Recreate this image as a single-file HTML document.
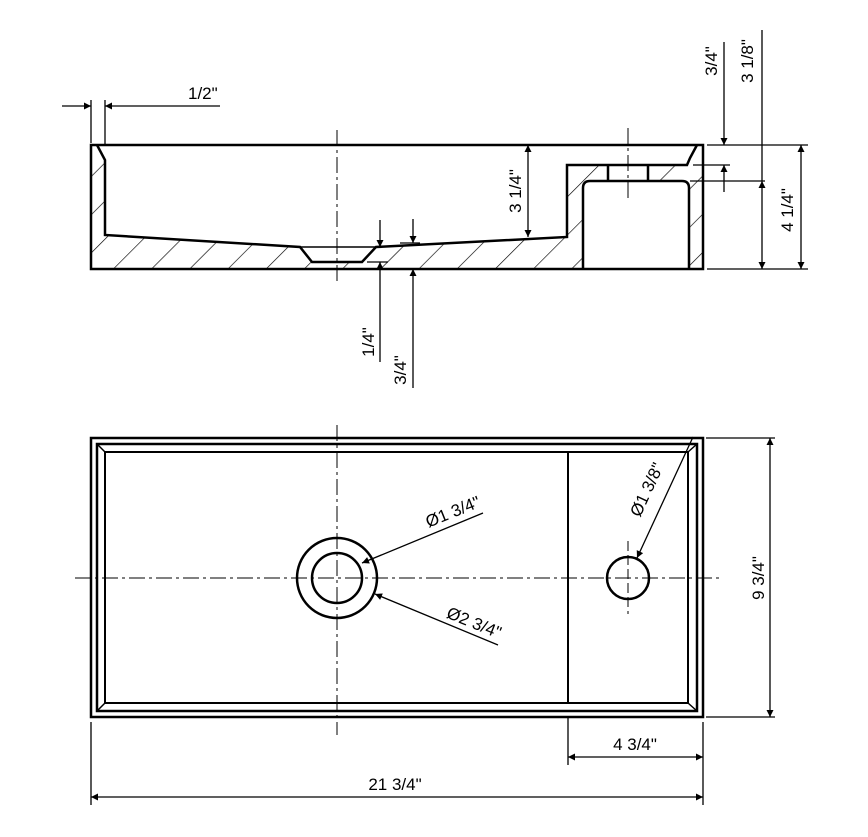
<!DOCTYPE html>
<html><head><style>
html,body{margin:0;padding:0;background:#fff;}
svg{display:block;}
text{font-family:"Liberation Sans",Arial,sans-serif;font-size:17px;fill:#000;}
</style></head><body>
<svg width="868" height="837" viewBox="0 0 868 837" xmlns="http://www.w3.org/2000/svg">
<defs>
<marker id="a" viewBox="0 0 10 10" refX="10" refY="5" markerWidth="15" markerHeight="7" markerUnits="userSpaceOnUse" orient="auto-start-reverse"><path d="M0,0 L10,5 L0,10 z" fill="#000"/></marker>
<pattern id="h" patternUnits="userSpaceOnUse" width="27" height="27" patternTransform="rotate(45)"><line x1="0" y1="0" x2="0" y2="27" stroke="#000" stroke-width="1.3"/></pattern>
</defs>
<g fill="none" stroke="#000">
<rect x="91" y="145" width="612" height="124" fill="url(#h)" stroke="none"/>
<path d="M97,145 L105,160 L105,235 L300,247 L312,262 L362,262 L376,247 L567,237 L567,165 L687,165 L697,145 Z" fill="#fff" stroke="none"/>
<path d="M583,269 L583,188 Q583,181 590,181 L682,181 Q689,181 689,188 L689,269 Z" fill="#fff" stroke="none"/>
<rect x="608" y="165" width="40" height="16" fill="#fff" stroke="none"/>
<rect x="91" y="145" width="612" height="124" stroke-width="2.5"/>
<path d="M97,145 L105,160 L105,235 L300,247 L312,262 L362,262 L376,247 L567,237 L567,165 L687,165 L690,158 L697,145" stroke-width="2.5"/>
<path d="M300,247 L376,247" stroke-width="1.5"/>
<path d="M583,269 L583,188 Q583,181 590,181 L682,181 Q689,181 689,188 L689,269" stroke-width="2.5"/>
<path d="M608,165 V181 M648,165 V181" stroke-width="2.5"/>
<path d="M337,130 V285 M628,128 V198" stroke-width="1" stroke-dasharray="16,4,3,4"/>
<path d="M91,100 V143 M105,100 V145" stroke-width="1.3"/>
<path d="M62,106 H91" stroke-width="1.3" marker-end="url(#a)"/>
<path d="M220,106 H105" stroke-width="1.3" marker-end="url(#a)"/>
<path d="M528,145 V237" stroke-width="1.3" marker-start="url(#a)" marker-end="url(#a)"/>
<path d="M707,145 H808 M693,165 H730 M690,181 H765 M707,269 H808" stroke-width="1.3"/>
<path d="M724,42 V145" stroke-width="1.3" marker-end="url(#a)"/>
<path d="M724,192 V165" stroke-width="1.3" marker-end="url(#a)"/>
<path d="M762,30 V145 M762,145 V181" stroke-width="1.3"/>
<path d="M762,181 V269" stroke-width="1.3" marker-start="url(#a)" marker-end="url(#a)"/>
<path d="M801,145 V269" stroke-width="1.3" marker-start="url(#a)" marker-end="url(#a)"/>
<path d="M380,220 V247" stroke-width="1.3" marker-end="url(#a)"/>
<path d="M380,362 V262" stroke-width="1.3" marker-end="url(#a)"/>
<path d="M367,262 H388 M400,243 H420" stroke-width="1.3"/>
<path d="M413,219 V243" stroke-width="1.3" marker-end="url(#a)"/>
<path d="M413,388 V269" stroke-width="1.3" marker-end="url(#a)"/>

<rect x="91" y="438" width="612" height="279" stroke-width="2.5"/>
<rect x="97" y="444" width="600" height="267" stroke-width="2.5"/>
<rect x="105" y="452" width="583" height="251" stroke-width="2"/>
<path d="M568,452 V703" stroke-width="2"/>
<path d="M97,444 L105,452 M697,444 L688,452 M97,711 L105,703 M697,711 L688,703" stroke-width="1.5"/>
<path d="M75,578 H720" stroke-width="1" stroke-dasharray="16,4,3,4"/>
<path d="M337,425 V735" stroke-width="1" stroke-dasharray="16,4,3,4"/>
<path d="M628,541 V614" stroke-width="1" stroke-dasharray="10,4"/>
<circle cx="337" cy="578" r="40" stroke-width="2.5"/>
<circle cx="337" cy="578" r="25" stroke-width="2.5"/>
<circle cx="628" cy="578" r="21" stroke-width="2.5"/>
<path d="M483,513 L362,563" stroke-width="1.3" marker-end="url(#a)"/>
<path d="M498,645 L375,594" stroke-width="1.3" marker-end="url(#a)"/>
<path d="M693,437 L637,558" stroke-width="1.3" marker-end="url(#a)"/>
<path d="M706,438 H775 M706,717 H775" stroke-width="1.3"/>
<path d="M770,438 V717" stroke-width="1.3" marker-start="url(#a)" marker-end="url(#a)"/>
<path d="M568,717 V765 M703,722 V805 M91,722 V805" stroke-width="1.3"/>
<path d="M568,757 H703" stroke-width="1.3" marker-start="url(#a)" marker-end="url(#a)"/>
<path d="M91,797 H703" stroke-width="1.3" marker-start="url(#a)" marker-end="url(#a)"/>
</g>
<text x="188" y="99">1/2"</text>
<text transform="translate(521,191) rotate(-90)" text-anchor="middle">3 1/4"</text>
<text transform="translate(717,61) rotate(-90)" text-anchor="middle">3/4"</text>
<text transform="translate(753,61) rotate(-90)" text-anchor="middle">3 1/8"</text>
<text transform="translate(793,210) rotate(-90)" text-anchor="middle">4 1/4"</text>
<text transform="translate(374,342) rotate(-90)" text-anchor="middle">1/4"</text>
<text transform="translate(406,370) rotate(-90)" text-anchor="middle">3/4"</text>
<text transform="translate(455,517) rotate(-22)" text-anchor="middle">Ø1 3/4"</text>
<text transform="translate(472,628) rotate(22)" text-anchor="middle">Ø2 3/4"</text>
<text transform="translate(652,492) rotate(-65)" text-anchor="middle">Ø1 3/8"</text>
<text transform="translate(764,578) rotate(-90)" text-anchor="middle">9 3/4"</text>
<text x="635" y="750" text-anchor="middle">4 3/4"</text>
<text x="395" y="790" text-anchor="middle">21 3/4"</text>
</svg>
</body></html>
